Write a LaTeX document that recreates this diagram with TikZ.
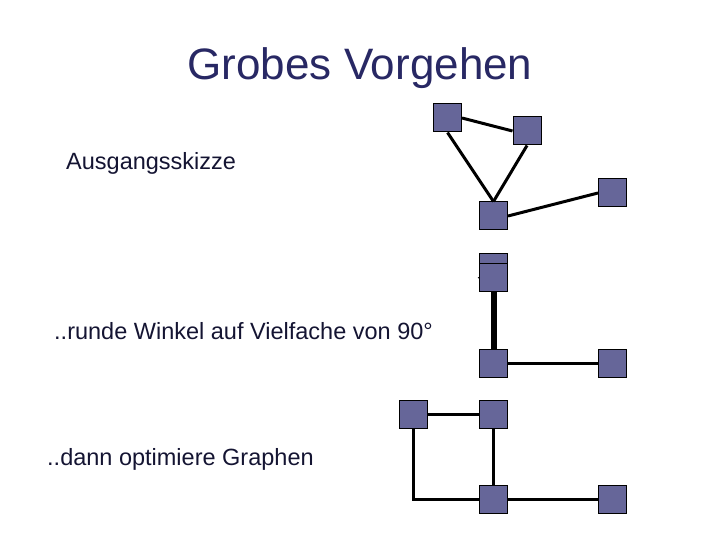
\documentclass[tikz,border=0pt]{standalone}
\usepackage{fontspec}
\setmainfont{Liberation Sans}
\begin{document}
\begin{tikzpicture}[x=1pt,y=-1pt,
  sq/.style={draw=black,fill={rgb,255:red,102;green,102;blue,153},minimum size=28pt,inner sep=0pt,line width=1pt},
  ln/.style={line width=3pt},
  txt/.style={text={rgb,255:red,20;green,20;blue,50},font=\fontsize{23.5}{26}\selectfont,anchor=west,inner sep=0pt}]
\useasboundingbox (0,0) rectangle (720,540);
\node[text={rgb,255:red,40;green,40;blue,100},font=\fontsize{44}{50}\selectfont] (title) at (360,68) {Grobes Vorgehen};
\node[txt] (t1) at (66,163) {Ausgangsskizze};
\node[txt] (t2) at (54,331) {..runde Winkel auf Vielfache von 90°};
\node[txt] (t3) at (47,459) {..dann optimiere Graphen};
% top graph
\node[sq] (a) at (447.5,118) {};
\node[sq] (b) at (527,131) {};
\node[sq] (c) at (493.5,216) {};
\node[sq] (d) at (612.5,193) {};
\draw[ln] (a.east) -- (b.west);
\draw[ln] (a.south) -- (c.north);
\draw[ln] (b.south) -- (c.north);
\draw[ln] (c.east) -- (d.west);
% middle graph
\node[sq] (e) at (493.5,267) {};
\node[sq] (f) at (493.5,277.5) {};
\node[sq] (g) at (493.5,363) {};
\node[sq] (h) at (612.5,363) {};
\draw[line width=6pt] (f.south) -- (g.north);
\draw[line width=1pt] (478,278) -- (f.west);
\draw[ln] (g.east) -- (h.west);
% bottom graph
\node[sq] (i) at (413.5,414) {};
\node[sq] (j) at (493.5,414) {};
\node[sq] (k) at (493.5,499) {};
\node[sq] (l) at (612.5,499) {};
\draw[ln] (i.east) -- (j.west);
\draw[ln] (j.south) -- (k.north);
\draw[ln] (i.south) |- (k.west);
\draw[ln] (k.east) -- (l.west);
\end{tikzpicture}
\end{document}
